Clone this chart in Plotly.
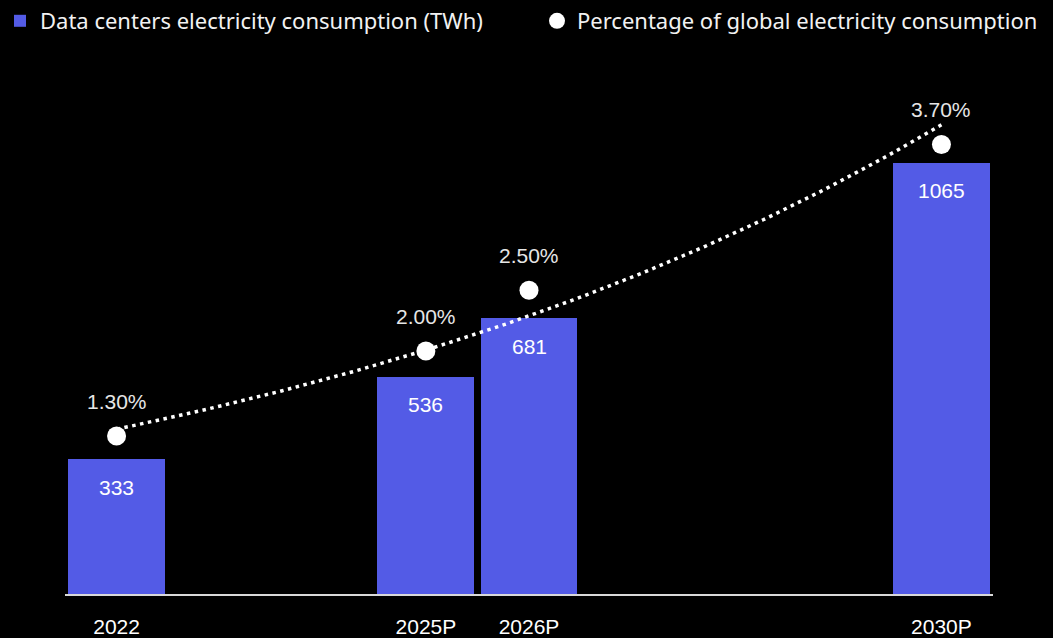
import numpy as np
import plotly.graph_objects as go

years = [2022, 2025, 2026, 2030]
year_labels = ["2022", "2025P", "2026P", "2030P"]
consumption_twh = [333, 536, 681, 1065]
share_pct = [1.30, 2.00, 2.50, 3.70]

bar_name = "Data centers electricity consumption (TWh)"
pt_name = "Percentage of global electricity consumption"

BAR_COLOR = "#535BE6"
BG = "#000000"

# exponential trendline fitted to the percentage series
coef = np.polyfit(np.array(years) - years[0], np.log(share_pct), 1)
tx = np.linspace(years[0], years[-1], 200)
ty = np.exp(np.polyval(coef, tx - years[0])) / 100

fig = go.Figure()
fig.add_trace(go.Bar(
    x=years, y=consumption_twh, name=bar_name, width=0.94,
    marker=dict(color=BAR_COLOR, line=dict(width=0)),
    hoverinfo="skip", legend="legend",
))
fig.add_trace(go.Scatter(
    x=tx, y=ty, mode="lines", yaxis="y2", showlegend=False,
    line=dict(color="white", width=3.5, dash="3.5px,4.5px"),
    hoverinfo="skip",
))
fig.add_trace(go.Scatter(
    x=years, y=[v / 100 for v in share_pct], mode="markers", yaxis="y2",
    name=pt_name, marker=dict(color="white", size=19, line=dict(width=0)),
    hoverinfo="skip", legend="legend2",
))

annotations = []
for x, v in zip(years, consumption_twh):
    annotations.append(dict(x=x, y=v, xref="x", yref="y", text=str(v),
                            showarrow=False, yshift=-28,
                            font=dict(family="Liberation Sans, Arial", size=21, color="#ffffff")))
for x, p in zip(years, share_pct):
    annotations.append(dict(x=x, y=p / 100, xref="x", yref="y2", text=f"{p:.2f}%",
                            showarrow=False, yshift=35,
                            font=dict(family="Liberation Sans, Arial", size=21, color="#e6e6e6")))

legend_font = dict(family="Noto Sans, Liberation Sans", size=22, color="#f2f2f2")

fig.update_layout(
    width=1053, height=638,
    paper_bgcolor=BG, plot_bgcolor=BG,
    margin=dict(l=65, r=60, t=108, b=44, autoexpand=False),
    showlegend=True,
    legend=dict(
        orientation="h", xref="container", yref="container",
        x=0, y=1, xanchor="left", yanchor="top",
        font=legend_font, bgcolor="rgba(0,0,0,0)", itemsizing="constant",
    ),
    legend2=dict(
        orientation="h", xref="container", yref="container",
        x=537 / 1053, y=1, xanchor="left", yanchor="top",
        font=legend_font, bgcolor="rgba(0,0,0,0)", itemsizing="trace",
    ),
    xaxis=dict(
        range=[2021.5, 2030.5], tickvals=years, ticktext=year_labels,
        showgrid=False, zeroline=False, showline=True,
        linecolor="#d9d9d9", linewidth=2, ticks="",
        ticklabelstandoff=13, automargin=False,
        tickfont=dict(family="Liberation Sans, Arial", size=21, color="#ffffff"),
    ),
    yaxis=dict(range=[0, 1200], visible=False, showgrid=False, zeroline=False,
               automargin=False),
    yaxis2=dict(range=[0, 0.04], overlaying="y", visible=False,
                showgrid=False, zeroline=False, automargin=False),
    annotations=annotations,
    bargap=0,
)

fig.write_html("out.html")
